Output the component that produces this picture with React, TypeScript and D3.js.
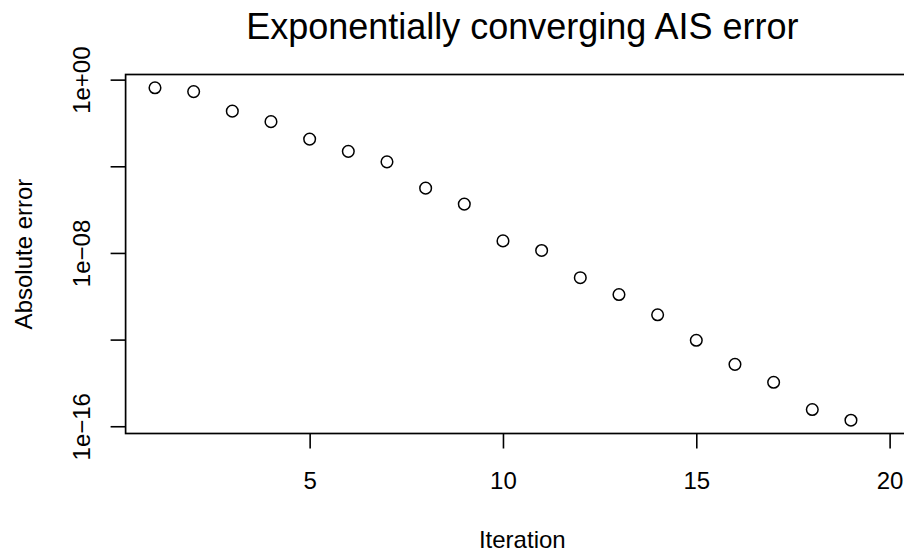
import React, { useEffect, useRef } from "react";
import * as d3 from "d3";

// iterations and absolute errors (log scale)
const iterations = [1, 2, 3, 4, 5, 6, 7, 8, 9, 10, 11, 12, 13, 14, 15, 16, 17, 18, 19];
const errors = [
  4.2e-1, 2.8e-1, 3.5e-2, 1.15e-2, 1.8e-3, 4.9e-4, 1.6e-4, 9.8e-6, 1.8e-6, 3.6e-8,
  1.3e-8, 7.2e-10, 1.2e-10, 1.4e-11, 9.3e-13, 7.2e-14, 1.07e-14, 5.9e-16, 1.9e-16,
];
const xTicks = [5, 10, 15, 20];
const yTicks = [1e0, 1e-4, 1e-8, 1e-12, 1e-16];
const yTickLabels: Record<string, string> = { "1": "1e+00", "1e-8": "1e\u221208", "1e-16": "1e\u221216" };

const W = 904;
const H = 553;
const FONT = "'Liberation Sans', Arial, Helvetica, sans-serif";
const FS = "24px";

const App: React.FC = () => {
  const svgRef = useRef<SVGSVGElement | null>(null);

  useEffect(() => {
    if (!svgRef.current) return;
    const svg = d3.select(svgRef.current);
    svg.selectAll("*").remove();

    const left = 125.6;
    const right = 919;
    const top = 74.5;
    const bottom = 433.5;

    // R style 4% padding on the range
    const xScale = d3.scaleLinear().domain([0.24, 20.76]).range([left, right]);
    const lmin = Math.log10(d3.min(errors) || 1e-16);
    const lmax = Math.log10(d3.max(errors) || 1);
    const pad = (lmax - lmin) * 0.04;
    const yScale = d3
      .scaleLog()
      .domain([Math.pow(10, lmin - pad), Math.pow(10, lmax + pad)])
      .range([bottom, top]);

    // box
    svg
      .append("rect")
      .attr("x", left)
      .attr("y", top)
      .attr("width", right - left)
      .attr("height", bottom - top)
      .attr("fill", "none")
      .attr("stroke", "#000")
      .attr("stroke-width", 1.7);

    const xAxis = d3.axisBottom(xScale).tickValues(xTicks).tickSize(15).tickFormat(d3.format("d"));
    const gx = svg.append("g").attr("transform", `translate(0, ${bottom})`).call(xAxis);
    gx.select(".domain").remove();
    gx.selectAll("line").attr("stroke", "#000").attr("stroke-width", 1.6);
    gx.selectAll("text")
      .attr("fill", "#000")
      .attr("y", 55)
      .attr("dy", 0)
      .style("font-family", FONT)
      .style("font-size", FS);

    const yAxis = d3
      .axisLeft(yScale)
      .tickValues(yTicks)
      .tickSize(15)
      .tickFormat((d) => yTickLabels[String(d)] || "");
    const gy = svg.append("g").attr("transform", `translate(${left}, 0)`).call(yAxis);
    gy.select(".domain").remove();
    gy.selectAll("line").attr("stroke", "#000").attr("stroke-width", 1.6);
    gy.selectAll<SVGTextElement, number>("text")
      .attr("fill", "#000")
      .attr("x", 0)
      .attr("dy", 0)
      .attr("text-anchor", "middle")
      .attr("transform", "translate(-35.6, 0) rotate(-90)")
      .style("font-family", FONT)
      .style("font-size", FS);

    svg
      .append("g")
      .selectAll("circle")
      .data(iterations)
      .enter()
      .append("circle")
      .attr("cx", (d) => xScale(d))
      .attr("cy", (_d, i) => yScale(errors[i]))
      .attr("r", 5.8)
      .attr("fill", "none")
      .attr("stroke", "#000")
      .attr("stroke-width", 1.5);

    const cx = (left + right) / 2;
    svg
      .append("text")
      .attr("x", cx)
      .attr("y", 38.5)
      .attr("text-anchor", "middle")
      .style("font-family", FONT)
      .style("font-size", "36px")
      .text("Exponentially converging AIS error");

    svg
      .append("text")
      .attr("x", cx)
      .attr("y", 548)
      .attr("text-anchor", "middle")
      .style("font-family", FONT)
      .style("font-size", FS)
      .text("Iteration");

    svg
      .append("text")
      .attr("transform", `translate(32, ${(top + bottom) / 2}) rotate(-90)`)
      .attr("text-anchor", "middle")
      .style("font-family", FONT)
      .style("font-size", FS)
      .text("Absolute error");
  }, []);

  return (
    <svg
      ref={svgRef}
      width={W}
      height={H}
      style={{ position: "fixed", left: 0, top: 0, background: "#fff" }}
    />
  );
};

export default App;
